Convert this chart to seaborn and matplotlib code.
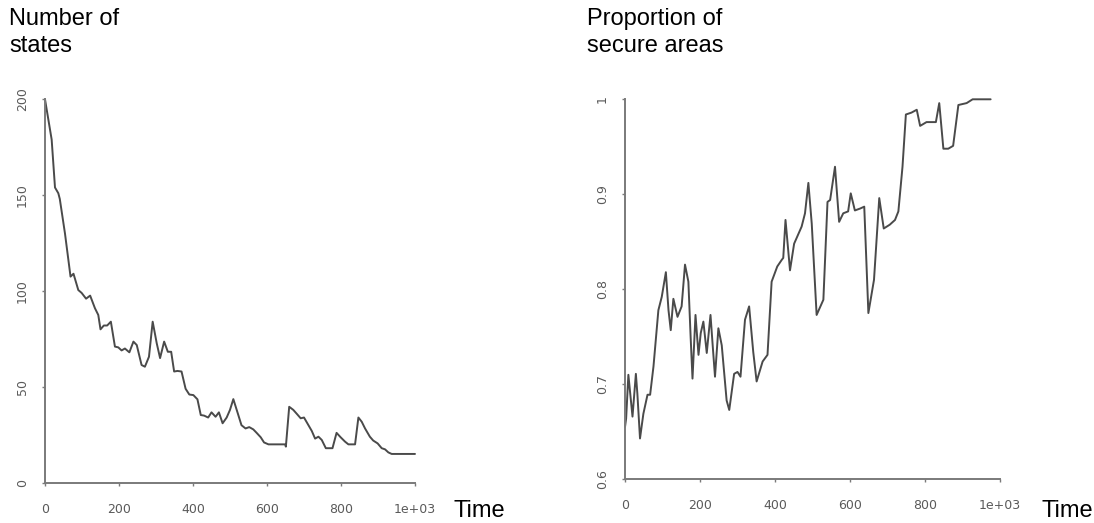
import matplotlib
matplotlib.use("Agg")
import matplotlib.pyplot as plt
import pandas as pd
import seaborn as sns

# Number of states over time
states_time = [0, 18, 27, 36, 40, 54, 69, 77, 90, 99, 111, 122, 135, 144, 150,
               159, 168, 178, 189, 198, 207, 216, 228, 239, 248, 261, 270, 281, 291, 302,
               311, 322, 332, 341, 349, 358, 369, 380, 390, 401, 412, 421, 430, 441, 450,
               461, 470, 480, 491, 500, 509, 521, 531, 542, 552, 563, 572, 583, 592, 604,
               649, 651, 660, 671, 682, 691, 700, 712, 721, 730, 739, 748, 759, 777, 788,
               799, 811, 820, 838, 847, 856, 865, 878, 887, 899, 910, 919, 928, 937, 1000]
states_count = [200, 179, 154, 151, 148, 130, 107.5, 109, 100.5, 99, 96, 97.6, 91, 87.5, 80,
                82, 82, 84, 71, 70.6, 69, 70, 68, 73.6, 71.8, 61.4, 60.5, 65.7, 84, 72.7,
                65, 73.6, 68.3, 68.3, 58, 58.3, 58, 49, 46, 45.7, 43.5, 35.3, 35, 34, 36.7,
                34.4, 36.7, 31, 34, 38, 43.6, 36.2, 30, 28.3, 29, 27.8, 26, 23.7, 21, 20,
                20, 18.8, 39.6, 38, 35.6, 33.6, 34, 30, 27, 23, 24, 22.3, 18, 18, 26,
                23.7, 21.4, 20, 20, 34, 31.8, 28.3, 24, 22, 20.5, 18, 17.4, 15.8, 15, 15]

# Proportion of secure areas over time
secure_time = [0, 3, 9, 13, 20, 29, 33, 40, 49, 60, 67, 76, 89, 98, 109,
               116, 122, 129, 140, 151, 160, 169, 175, 180, 188, 196, 202, 209, 218, 228,
               234, 240, 249, 258, 271, 278, 291, 300, 308, 320, 331, 342, 351, 367, 380,
               391, 406, 418, 422, 428, 440, 451, 471, 480, 489, 498, 511, 529, 540, 547,
               560, 571, 582, 595, 602, 613, 627, 638, 649, 664, 678, 690, 706, 720, 729,
               740, 749, 764, 778, 787, 804, 829, 838, 849, 862, 875, 889, 911, 927, 975]
secure_prop = [0.655, 0.664, 0.710, 0.694, 0.666, 0.711, 0.690, 0.643, 0.669, 0.689,
               0.689, 0.719, 0.778, 0.792, 0.818, 0.778, 0.757, 0.790, 0.771, 0.782,
               0.826, 0.808, 0.750, 0.706, 0.773, 0.731, 0.754, 0.766, 0.733, 0.773,
               0.740, 0.708, 0.759, 0.741, 0.683, 0.673, 0.711, 0.713, 0.708, 0.768,
               0.782, 0.734, 0.703, 0.724, 0.731, 0.808, 0.824, 0.831, 0.833, 0.873,
               0.820, 0.848, 0.866, 0.880, 0.912, 0.869, 0.773, 0.789, 0.892, 0.894,
               0.929, 0.871, 0.880, 0.882, 0.901, 0.883, 0.885, 0.887, 0.775, 0.810,
               0.896, 0.864, 0.868, 0.873, 0.882, 0.929, 0.984, 0.986, 0.989, 0.972,
               0.976, 0.976, 0.996, 0.948, 0.948, 0.951, 0.994, 0.996, 1.0, 1.0]

x_ticks = [0, 200, 400, 600, 800, 1000]
x_tick_labels = ["0", "200", "400", "600", "800", "1e+03"]
states_ticks = [0, 50, 100, 150, 200]
states_tick_labels = ["0", "50", "100", "150", "200"]
secure_ticks = [0.6, 0.7, 0.8, 0.9, 1.0]
secure_tick_labels = ["0.6", "0.7", "0.8", "0.9", "1"]

sns.set_style("white")
plt.rcParams["font.family"] = ["DejaVu Sans"]

W, H = 1094, 523
fig = plt.figure(figsize=(W / 100, H / 100), dpi=100)


def px_axes(x0, x1, ytop, ybot):
    return fig.add_axes([x0 / W, 1 - ybot / H, (x1 - x0) / W, (ybot - ytop) / H])


ax1 = px_axes(45, 415, 99.3, 482.7)
ax2 = px_axes(625, 1000, 99.3, 479.3)

df_states = pd.DataFrame({"time": states_time, "states": states_count})
df_secure = pd.DataFrame({"time": secure_time, "secure": secure_prop})

line_color = "#4a4a4a"
sns.lineplot(data=df_states, x="time", y="states", ax=ax1, color=line_color,
             linewidth=1.4, sort=False)
sns.lineplot(data=df_secure, x="time", y="secure", ax=ax2, color=line_color,
             linewidth=1.4, sort=False)

panels = [
    (ax1, (0, 200), states_ticks, states_tick_labels),
    (ax2, (0.6, 1.0), secure_ticks, secure_tick_labels),
]
for ax, ylim, yt, ytl in panels:
    ax.set_xlim(0, 1000)
    ax.set_ylim(*ylim)
    ax.set_facecolor("none")
    for ln in ax.get_lines():
        ln.set_clip_on(False)
    ax.set_xticks(x_ticks, x_tick_labels)
    ax.set_yticks(yt, ytl)
    ax.set_xlabel("")
    ax.set_ylabel("")
    for side in ("top", "right"):
        ax.spines[side].set_visible(False)
    for side in ("left", "bottom"):
        ax.spines[side].set_color("#7a7a7a")
        ax.spines[side].set_linewidth(1.4)
    ax.tick_params(axis="both", direction="out", length=2.5, width=1.0,
                   bottom=True, left=True, color="#7a7a7a", labelcolor="#5a5a5a",
                   labelsize=9)
    ax.tick_params(axis="x", pad=12)
    ax.tick_params(axis="y", pad=9)
    for lab in ax.get_yticklabels():
        lab.set_rotation(90)
        lab.set_va("center")

title_kw = dict(family=["Liberation Sans", "DejaVu Sans"], fontsize=17, color="black")
fig.text(9 / W, 1 - 25 / H, "Number of", va="baseline", ha="left", **title_kw)
fig.text(9 / W, 1 - 52 / H, "states", va="baseline", ha="left", **title_kw)
fig.text(587 / W, 1 - 25 / H, "Proportion of", va="baseline", ha="left", **title_kw)
fig.text(587 / W, 1 - 52 / H, "secure areas", va="baseline", ha="left", **title_kw)
fig.text(453 / W, 1 - 517 / H, "Time", va="baseline", ha="left", **title_kw)
fig.text(1042 / W, 1 - 517 / H, "Time", va="baseline", ha="left", **title_kw)

fig.savefig("out.png", dpi=100)
